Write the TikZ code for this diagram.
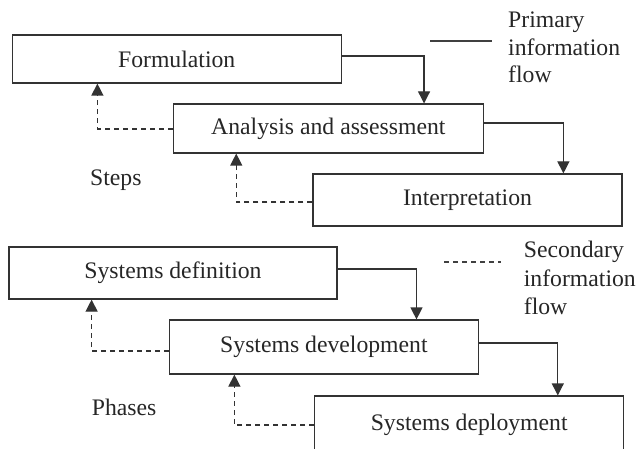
\documentclass[tikz,border=0pt]{standalone}
\usepackage{fontspec}
\setmainfont{Liberation Serif}
\usetikzlibrary{arrows.meta,positioning}
\begin{document}
\begin{tikzpicture}[x=1pt,y=-1pt,
  every node/.style={font=\fontsize{23.7}{27.5}\selectfont,text=black!85},
  stagebox/.style={draw=black!80,line width=1.2pt,inner sep=0pt},
  primary/.style={draw=black!80,line width=1.2pt,-{Triangle[length=12pt,width=12pt]}},
  secondary/.style={draw=black!80,line width=1.2pt,dash pattern=on 5pt off 4pt,-{Triangle[length=12pt,width=12pt]}},
  legendline/.style={draw=black!75,line width=1.2pt},
  caption/.style={anchor=base west,inner sep=0pt}]
  \clip (0,0) rectangle (640,449);

  % steps
  \node[stagebox,minimum width=329pt,minimum height=48pt] (form) at (176.7,59) {Formulation};
  \node[stagebox,minimum width=310.5pt,minimum height=49pt] (anal) at (328.4,128.5) {Analysis and assessment};
  \node[stagebox,minimum width=309pt,minimum height=52pt] (interp) at (467.5,200) {Interpretation};
  \node[caption] (steps) at (90,186) {Steps};

  \draw[primary] ([yshift=3pt]form.east) -| ([xshift=251.5pt]anal.north west);
  \draw[primary] ([yshift=5.5pt]anal.east) -| ([xshift=251pt]interp.north west);
  \draw[secondary] ([yshift=-0.5pt]anal.west) -| ([xshift=85.8pt]form.south west);
  \draw[secondary] ([yshift=-2pt]interp.west) -| ([xshift=63.7pt]anal.south west);

  % phases
  \node[stagebox,minimum width=328pt,minimum height=52pt] (sdef) at (173,273) {Systems definition};
  \node[stagebox,minimum width=309pt,minimum height=54pt] (sdev) at (323.9,347) {Systems development};
  \node[stagebox,minimum width=309pt,minimum height=58pt] (sdep) at (469.2,425) {Systems deployment};
  \node[caption] (phases) at (91.7,415) {Phases};

  \draw[primary] ([yshift=4pt]sdef.east) -| ([xshift=247.7pt]sdev.north west);
  \draw[primary] ([yshift=4pt]sdev.east) -| ([xshift=243.7pt]sdep.north west);
  \draw[secondary] ([yshift=-4pt]sdev.west) -| ([xshift=83.2pt]sdef.south west);
  \draw[secondary] (sdep.west) -| ([xshift=65.6pt]sdev.south west);

  % legend
  \coordinate (pa) at (430,41);
  \coordinate (pb) at (492,41);
  \draw[legendline] (pa) -- (pb);
  \node[caption] (ptext) at (508,28)
    {\vtop{\baselineskip=27.5pt\hbox{Primary}\hbox{information}\hbox{flow}}};

  \coordinate (sa) at (444,262);
  \coordinate (sb) at (501,262);
  \draw[legendline,dash pattern=on 5pt off 4pt] (sa) -- (sb);
  \node[caption] (stext) at (523.7,258)
    {\vtop{\baselineskip=28.5pt\hbox{Secondary}\hbox{information}\hbox{flow}}};
\end{tikzpicture}
\end{document}
